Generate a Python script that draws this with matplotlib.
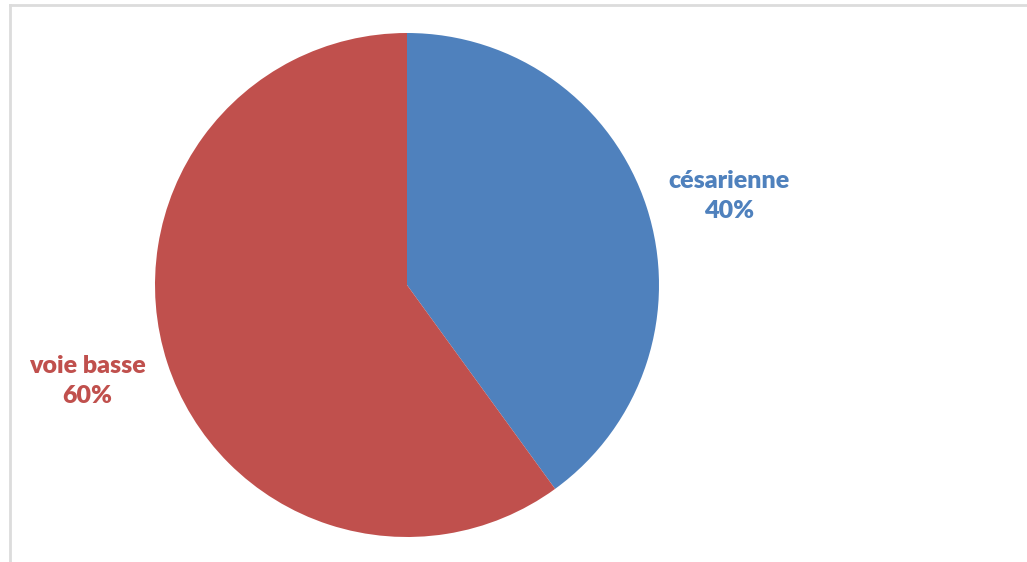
import matplotlib
matplotlib.use("Agg")
import matplotlib.pyplot as plt
from matplotlib.lines import Line2D

categories = ["césarienne", "voie basse"]
shares = [40, 60]
colors = ["#4F81BD", "#C0504D"]

W, H = 1027, 562
fig = plt.figure(figsize=(W / 100, H / 100), dpi=100)
ax = fig.add_axes([0, 0, 1, 1])

cx, cy, r = 407, H - 285, 252
ax.pie(shares, colors=colors, startangle=90, counterclock=False,
       center=(cx, cy), radius=r, frame=True,
       wedgeprops=dict(linewidth=0))
ax.set_xlim(0, W)
ax.set_ylim(0, H)
ax.set_aspect("equal")
ax.axis("off")

# Category labels with percentages
label_pos = [(729, H - 196), (87, H - 381)]
for name, val, col, (x, y) in zip(categories, shares, colors, label_pos):
    ax.text(x, y, f"{name}\n{val}%", color=col, ha="center", va="center",
            fontsize=18, fontweight="heavy", family="Lato", linespacing=1.45)

# Light frame around the chart area
frame_kw = dict(color="#DCDCDC", linewidth=2, transform=ax.transData)
ax.add_line(Line2D([10, W], [H - 5, H - 5], **frame_kw))
ax.add_line(Line2D([10, 10], [0, H - 5], **frame_kw))

fig.savefig("out.png", dpi=100)
